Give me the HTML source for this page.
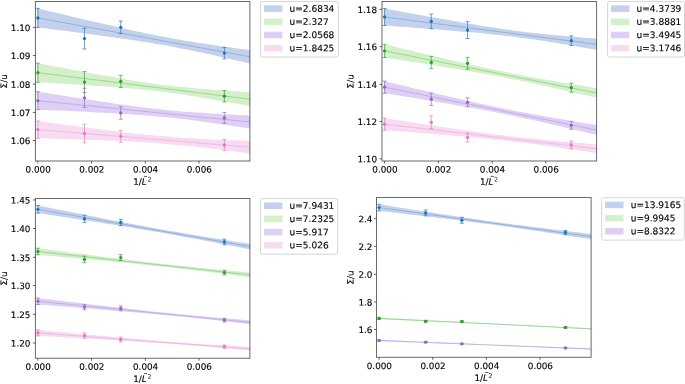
<!DOCTYPE html>
<html lang="en"><head><meta charset="utf-8"><title>Sigma/u vs 1/L^2</title>
<style>html,body{margin:0;padding:0;background:#fff;overflow:hidden}svg{display:block}</style>
</head><body>
<svg width="685" height="384" viewBox="0 0 685 384" font-family='"DejaVu Sans", "Liberation Sans", sans-serif' fill="#000" text-rendering="geometricPrecision">
<rect width="685" height="384" fill="#fff"/>
<filter id="soft" x="0" y="0" width="100%" height="100%" filterUnits="userSpaceOnUse" color-interpolation-filters="sRGB"><feGaussianBlur stdDeviation="0.42"/></filter>
<g filter="url(#soft)">
<rect width="685" height="384" fill="#fff"/>
<clipPath id="c0"><rect x="35.4" y="1.5" width="214.5" height="159.5"/></clipPath>
<g clip-path="url(#c0)">
<polygon points="37.4,8.24 42.87,9.57 48.35,10.89 53.82,12.2 59.3,13.52 64.77,14.83 70.25,16.14 75.72,17.44 81.19,18.74 86.67,20.03 92.14,21.31 97.62,22.58 103.09,23.85 108.57,25.11 114.04,26.35 119.52,27.58 124.99,28.8 130.46,30 135.94,31.18 141.41,32.34 146.89,33.47 152.36,34.58 157.84,35.66 163.31,36.72 168.78,37.74 174.26,38.74 179.73,39.7 185.21,40.63 190.68,41.54 196.16,42.42 201.63,43.27 207.11,44.11 212.58,44.92 218.05,45.72 223.53,46.5 229,47.27 234.48,48.02 239.95,48.77 245.43,49.5 250.9,50.23 250.9,63.73 245.43,62.45 239.95,61.18 234.48,59.92 229,58.66 223.53,57.42 218.05,56.2 212.58,54.99 207.11,53.79 201.63,52.62 196.16,51.46 190.68,50.33 185.21,49.23 179.73,48.16 174.26,47.11 168.78,46.1 163.31,45.11 157.84,44.16 152.36,43.23 146.89,42.33 141.41,41.46 135.94,40.61 130.46,39.78 124.99,38.97 119.52,38.18 114.04,37.4 108.57,36.64 103.09,35.89 97.62,35.15 92.14,34.41 86.67,33.69 81.19,32.97 75.72,32.26 70.25,31.55 64.77,30.85 59.3,30.15 53.82,29.46 48.35,28.77 42.87,28.08 37.4,27.39" fill="#c4d1ed"/>
<polygon points="37.4,63.11 42.87,64.16 48.35,65.2 53.82,66.24 59.3,67.27 64.77,68.31 70.25,69.34 75.72,70.36 81.19,71.38 86.67,72.39 92.14,73.4 97.62,74.4 103.09,75.39 108.57,76.37 114.04,77.34 119.52,78.29 124.99,79.22 130.46,80.14 135.94,81.03 141.41,81.88 146.89,82.71 152.36,83.5 157.84,84.25 163.31,84.96 168.78,85.62 174.26,86.24 179.73,86.82 185.21,87.36 190.68,87.87 196.16,88.35 201.63,88.81 207.11,89.24 212.58,89.66 218.05,90.06 223.53,90.45 229,90.83 234.48,91.2 239.95,91.56 245.43,91.91 250.9,92.26 250.9,106.39 245.43,105.37 239.95,104.35 234.48,103.35 229,102.35 223.53,101.36 218.05,100.38 212.58,99.41 207.11,98.46 201.63,97.53 196.16,96.61 190.68,95.73 185.21,94.87 179.73,94.04 174.26,93.25 168.78,92.51 163.31,91.8 157.84,91.14 152.36,90.52 146.89,89.94 141.41,89.4 135.94,88.89 130.46,88.41 124.99,87.96 119.52,87.52 114.04,87.11 108.57,86.7 103.09,86.32 97.62,85.94 92.14,85.57 86.67,85.21 81.19,84.85 75.72,84.5 70.25,84.16 64.77,83.82 59.3,83.49 53.82,83.15 48.35,82.82 42.87,82.5 37.4,82.17" fill="#d3f0c9"/>
<polygon points="37.4,91.63 42.87,92.5 48.35,93.37 53.82,94.23 59.3,95.09 64.77,95.95 70.25,96.81 75.72,97.66 81.19,98.5 86.67,99.34 92.14,100.18 97.62,101 103.09,101.82 108.57,102.62 114.04,103.42 119.52,104.2 124.99,104.96 130.46,105.71 135.94,106.44 141.41,107.14 146.89,107.82 152.36,108.46 157.84,109.08 163.31,109.66 168.78,110.21 174.26,110.73 179.73,111.21 185.21,111.66 190.68,112.09 196.16,112.48 201.63,112.86 207.11,113.21 212.58,113.54 218.05,113.86 223.53,114.17 229,114.46 234.48,114.75 239.95,115.02 245.43,115.29 250.9,115.55 250.9,128.65 245.43,127.81 239.95,126.98 234.48,126.16 229,125.34 223.53,124.53 218.05,123.74 212.58,122.96 207.11,122.19 201.63,121.45 196.16,120.72 190.68,120.02 185.21,119.34 179.73,118.69 174.26,118.07 168.78,117.49 163.31,116.94 157.84,116.42 152.36,115.94 146.89,115.49 141.41,115.07 135.94,114.67 130.46,114.3 124.99,113.94 119.52,113.61 114.04,113.29 108.57,112.98 103.09,112.69 97.62,112.41 92.14,112.13 86.67,111.86 81.19,111.6 75.72,111.35 70.25,111.1 64.77,110.85 59.3,110.61 53.82,110.38 48.35,110.14 42.87,109.91 37.4,109.68" fill="#ddcff5"/>
<polygon points="37.4,120.94 42.87,121.69 48.35,122.44 53.82,123.19 59.3,123.94 64.77,124.68 70.25,125.42 75.72,126.15 81.19,126.88 86.67,127.6 92.14,128.31 97.62,129.02 103.09,129.72 108.57,130.41 114.04,131.08 119.52,131.75 124.99,132.4 130.46,133.03 135.94,133.64 141.41,134.23 146.89,134.79 152.36,135.33 157.84,135.85 163.31,136.33 168.78,136.78 174.26,137.2 179.73,137.6 185.21,137.96 190.68,138.3 196.16,138.62 201.63,138.92 207.11,139.19 212.58,139.45 218.05,139.69 223.53,139.92 229,140.14 234.48,140.35 239.95,140.55 245.43,140.75 250.9,140.93 250.9,153.63 245.43,152.91 239.95,152.19 234.48,151.49 229,150.79 223.53,150.1 218.05,149.42 212.58,148.75 207.11,148.1 201.63,147.47 196.16,146.86 190.68,146.27 185.21,145.7 179.73,145.15 174.26,144.64 168.78,144.15 163.31,143.7 157.84,143.27 152.36,142.87 146.89,142.51 141.41,142.16 135.94,141.84 130.46,141.55 124.99,141.27 119.52,141.01 114.04,140.76 108.57,140.53 103.09,140.31 97.62,140.1 92.14,139.9 86.67,139.71 81.19,139.52 75.72,139.34 70.25,139.16 64.77,138.99 59.3,138.82 53.82,138.66 48.35,138.5 42.87,138.34 37.4,138.19" fill="#f7dbf2"/>
<line x1="37.85" y1="17.9" x2="250.9" y2="56.98" stroke="#1f77b4" stroke-width="0.55" stroke-opacity="0.6"/>
<line x1="37.85" y1="72.7" x2="250.9" y2="99.32" stroke="#2ca02c" stroke-width="0.55" stroke-opacity="0.6"/>
<line x1="37.85" y1="100.7" x2="250.9" y2="122.1" stroke="#9467bd" stroke-width="0.55" stroke-opacity="0.6"/>
<line x1="37.85" y1="129.6" x2="250.9" y2="147.28" stroke="#e377c2" stroke-width="0.55" stroke-opacity="0.6"/>
</g>
<g stroke="#1f77b4" stroke-width="0.9" stroke-opacity="0.75" fill="#1f77b4">
<path d="M37.85 8.35V27.45M35.85 8.35H39.85M35.85 27.45H39.85" fill="none"/>
<circle cx="37.85" cy="17.9" r="1.65" stroke="none"/>
<path d="M84.48 28.2V49M82.48 28.2H86.48M82.48 49H86.48" fill="none"/>
<circle cx="84.48" cy="38.6" r="1.65" stroke="none"/>
<path d="M120.75 21.1V33.5M118.75 21.1H122.75M118.75 33.5H122.75" fill="none"/>
<circle cx="120.75" cy="27.3" r="1.65" stroke="none"/>
<path d="M224.38 47.4V58.8M222.38 47.4H226.38M222.38 58.8H226.38" fill="none"/>
<circle cx="224.38" cy="53.1" r="1.65" stroke="none"/>
</g>
<g stroke="#2ca02c" stroke-width="0.9" stroke-opacity="0.75" fill="#2ca02c">
<path d="M37.85 63.2V82.2M35.85 63.2H39.85M35.85 82.2H39.85" fill="none"/>
<circle cx="37.85" cy="72.7" r="1.65" stroke="none"/>
<path d="M84.48 71.6V92.6M82.48 71.6H86.48M82.48 92.6H86.48" fill="none"/>
<circle cx="84.48" cy="82.1" r="1.65" stroke="none"/>
<path d="M120.75 75.4V87.4M118.75 75.4H122.75M118.75 87.4H122.75" fill="none"/>
<circle cx="120.75" cy="81.4" r="1.65" stroke="none"/>
<path d="M224.38 90.5V101.9M222.38 90.5H226.38M222.38 101.9H226.38" fill="none"/>
<circle cx="224.38" cy="96.2" r="1.65" stroke="none"/>
</g>
<g stroke="#9467bd" stroke-width="0.9" stroke-opacity="0.75" fill="#9467bd">
<path d="M37.85 91.7V109.7M35.85 91.7H39.85M35.85 109.7H39.85" fill="none"/>
<circle cx="37.85" cy="100.7" r="1.65" stroke="none"/>
<path d="M84.48 88.3V107.3M82.48 88.3H86.48M82.48 107.3H86.48" fill="none"/>
<circle cx="84.48" cy="97.8" r="1.65" stroke="none"/>
<path d="M120.75 106.8V119.2M118.75 106.8H122.75M118.75 119.2H122.75" fill="none"/>
<circle cx="120.75" cy="113" r="1.65" stroke="none"/>
<path d="M224.38 112.4V123.4M222.38 112.4H226.38M222.38 123.4H226.38" fill="none"/>
<circle cx="224.38" cy="117.9" r="1.65" stroke="none"/>
</g>
<g stroke="#e377c2" stroke-width="0.9" stroke-opacity="0.75" fill="#e377c2">
<path d="M37.85 121V138.2M35.85 121H39.85M35.85 138.2H39.85" fill="none"/>
<circle cx="37.85" cy="129.6" r="1.65" stroke="none"/>
<path d="M84.48 124.2V142.8M82.48 124.2H86.48M82.48 142.8H86.48" fill="none"/>
<circle cx="84.48" cy="133.5" r="1.65" stroke="none"/>
<path d="M120.75 130.3V142.3M118.75 130.3H122.75M118.75 142.3H122.75" fill="none"/>
<circle cx="120.75" cy="136.3" r="1.65" stroke="none"/>
<path d="M224.38 139.4V150.6M222.38 139.4H226.38M222.38 150.6H226.38" fill="none"/>
<circle cx="224.38" cy="145" r="1.65" stroke="none"/>
</g>
<rect x="35.4" y="1.5" width="214.5" height="159.5" fill="none" stroke="#000000" stroke-width="0.95" stroke-opacity="0.62"/>
<path d="M37.85 161v2.5M91.57 161v2.5M145.29 161v2.5M199.01 161v2.5M35.4 27.4h-2.5M35.4 55.5h-2.5M35.4 84.2h-2.5M35.4 112.45h-2.5M35.4 140.5h-2.5" stroke="#000000" stroke-width="0.95" stroke-opacity="0.62" fill="none"/>
<g font-size="8.8">
<text stroke="#000" stroke-width="0.13" x="38.15" y="172.6" transform="rotate(0.03 38.15 172.6)" text-anchor="middle">0.000</text>
<text stroke="#000" stroke-width="0.13" x="91.87" y="172.6" transform="rotate(0.03 91.87 172.6)" text-anchor="middle">0.002</text>
<text stroke="#000" stroke-width="0.13" x="145.59" y="172.6" transform="rotate(0.03 145.59 172.6)" text-anchor="middle">0.004</text>
<text stroke="#000" stroke-width="0.13" x="199.31" y="172.6" transform="rotate(0.03 199.31 172.6)" text-anchor="middle">0.006</text>
<text stroke="#000" stroke-width="0.13" x="30.4" y="30.95" transform="rotate(0.03 30.4 30.95)" text-anchor="end">1.10</text>
<text stroke="#000" stroke-width="0.13" x="30.4" y="59.05" transform="rotate(0.03 30.4 59.05)" text-anchor="end">1.09</text>
<text stroke="#000" stroke-width="0.13" x="30.4" y="87.75" transform="rotate(0.03 30.4 87.75)" text-anchor="end">1.08</text>
<text stroke="#000" stroke-width="0.13" x="30.4" y="116" transform="rotate(0.03 30.4 116)" text-anchor="end">1.07</text>
<text stroke="#000" stroke-width="0.13" x="30.4" y="144.05" transform="rotate(0.03 30.4 144.05)" text-anchor="end">1.06</text>
</g>
<g font-size="8.8">
<text stroke="#000" stroke-width="0.13" x="133.25" y="184.8" transform="rotate(0.03 133.25 184.8)">1/<tspan font-style="italic">L</tspan></text>
<text stroke="#000" stroke-width="0.13" x="143.55" y="177.8" transform="rotate(0.03 143.55 177.8)" font-size="4.6" font-weight="bold">~</text>
<text x="147.45" y="181.5" transform="rotate(0.03 147.45 181.5)" font-size="6.4" fill="#222">2</text>
</g>
<text transform="translate(6.9 81.35) rotate(-90.03)" font-size="8.8" text-anchor="middle" stroke="#000" stroke-width="0.13">Σ/u</text>
<rect x="260.6" y="1.45" width="77.7" height="55.56" rx="1.8" ry="1.8" fill="#fff" stroke="#cacaca" stroke-width="0.8"/>
<g font-size="9.0">
<rect x="264" y="5.4" width="18.4" height="6.5" fill="#c4d1ed"/>
<text stroke="#000" stroke-width="0.13" x="289.6" y="11.7" transform="rotate(0.03 289.6 11.7)">u=2.6834</text>
<rect x="264" y="18.57" width="18.4" height="6.5" fill="#d3f0c9"/>
<text stroke="#000" stroke-width="0.13" x="289.6" y="24.87" transform="rotate(0.03 289.6 24.87)">u=2.327</text>
<rect x="264" y="31.74" width="18.4" height="6.5" fill="#ddcff5"/>
<text stroke="#000" stroke-width="0.13" x="289.6" y="38.04" transform="rotate(0.03 289.6 38.04)">u=2.0568</text>
<rect x="264" y="44.91" width="18.4" height="6.5" fill="#f7dbf2"/>
<text stroke="#000" stroke-width="0.13" x="289.6" y="51.21" transform="rotate(0.03 289.6 51.21)">u=1.8425</text>
</g>
<clipPath id="c1"><rect x="382" y="1.5" width="214.6" height="159.5"/></clipPath>
<g clip-path="url(#c1)">
<polygon points="384.15,8.42 389.62,9.42 395.1,10.43 400.57,11.43 406.04,12.43 411.52,13.43 416.99,14.42 422.46,15.42 427.93,16.4 433.41,17.39 438.88,18.37 444.35,19.34 449.83,20.3 455.3,21.26 460.77,22.21 466.25,23.15 471.72,24.08 477.19,24.99 482.67,25.89 488.14,26.76 493.61,27.62 499.08,28.45 504.56,29.25 510.03,30.02 515.5,30.76 520.98,31.46 526.45,32.13 531.92,32.77 537.4,33.37 542.87,33.95 548.34,34.5 553.82,35.03 559.29,35.55 564.76,36.04 570.23,36.52 575.71,36.99 581.18,37.45 586.65,37.9 592.13,38.34 597.6,38.78 597.6,50.08 592.13,49.1 586.65,48.14 581.18,47.18 575.71,46.23 570.23,45.29 564.76,44.36 559.29,43.45 553.82,42.55 548.34,41.67 542.87,40.81 537.4,39.98 531.92,39.18 526.45,38.4 520.98,37.66 515.5,36.96 510.03,36.29 504.56,35.65 499.08,35.04 493.61,34.46 488.14,33.9 482.67,33.37 477.19,32.85 471.72,32.36 466.25,31.88 460.77,31.41 455.3,30.95 449.83,30.49 444.35,30.05 438.88,29.61 433.41,29.18 427.93,28.76 422.46,28.34 416.99,27.92 411.52,27.5 406.04,27.09 400.57,26.68 395.1,26.27 389.62,25.87 384.15,25.47" fill="#c4d1ed"/>
<polygon points="384.15,44.19 389.62,45.51 395.1,46.83 400.57,48.14 406.04,49.45 411.52,50.76 416.99,52.06 422.46,53.37 427.93,54.66 433.41,55.95 438.88,57.24 444.35,58.52 449.83,59.8 455.3,61.06 460.77,62.32 466.25,63.57 471.72,64.8 477.19,66.02 482.67,67.23 488.14,68.42 493.61,69.59 499.08,70.74 504.56,71.86 510.03,72.97 515.5,74.05 520.98,75.11 526.45,76.15 531.92,77.16 537.4,78.16 542.87,79.13 548.34,80.09 553.82,81.04 559.29,81.97 564.76,82.9 570.23,83.81 575.71,84.71 581.18,85.61 586.65,86.5 592.13,87.38 597.6,88.26 597.6,98.14 592.13,96.84 586.65,95.55 581.18,94.27 575.71,92.99 570.23,91.72 564.76,90.46 559.29,89.21 553.82,87.97 548.34,86.74 542.87,85.53 537.4,84.33 531.92,83.15 526.45,81.99 520.98,80.86 515.5,79.74 510.03,78.65 504.56,77.58 499.08,76.53 493.61,75.51 488.14,74.5 482.67,73.52 477.19,72.55 471.72,71.6 466.25,70.66 460.77,69.73 455.3,68.82 449.83,67.91 444.35,67.01 438.88,66.12 433.41,65.23 427.93,64.35 422.46,63.47 416.99,62.6 411.52,61.73 406.04,60.87 400.57,60 395.1,59.14 389.62,58.29 384.15,57.43" fill="#d3f0c9"/>
<polygon points="384.15,81.09 389.62,82.41 395.1,83.74 400.57,85.06 406.04,86.37 411.52,87.69 416.99,89 422.46,90.3 427.93,91.6 433.41,92.9 438.88,94.19 444.35,95.47 449.83,96.75 455.3,98.02 460.77,99.27 466.25,100.52 471.72,101.75 477.19,102.96 482.67,104.16 488.14,105.34 493.61,106.5 499.08,107.64 504.56,108.76 510.03,109.85 515.5,110.93 520.98,111.98 526.45,113.01 531.92,114.02 537.4,115.01 542.87,115.99 548.34,116.96 553.82,117.91 559.29,118.86 564.76,119.79 570.23,120.72 575.71,121.64 581.18,122.55 586.65,123.46 592.13,124.36 597.6,125.26 597.6,135.14 592.13,133.83 586.65,132.52 581.18,131.22 575.71,129.93 570.23,128.64 564.76,127.35 559.29,126.08 553.82,124.81 548.34,123.56 542.87,122.31 537.4,121.08 531.92,119.87 526.45,118.67 520.98,117.49 515.5,116.33 510.03,115.19 504.56,114.08 499.08,112.98 493.61,111.91 488.14,110.86 482.67,109.83 477.19,108.82 471.72,107.83 466.25,106.85 460.77,105.88 455.3,104.93 449.83,103.99 444.35,103.05 438.88,102.13 433.41,101.21 427.93,100.29 422.46,99.39 416.99,98.48 411.52,97.58 406.04,96.69 400.57,95.79 395.1,94.9 389.62,94.01 384.15,93.13" fill="#ddcff5"/>
<polygon points="384.15,118.13 389.62,118.97 395.1,119.81 400.57,120.65 406.04,121.49 411.52,122.32 416.99,123.15 422.46,123.98 427.93,124.81 433.41,125.63 438.88,126.44 444.35,127.25 449.83,128.06 455.3,128.85 460.77,129.64 466.25,130.42 471.72,131.19 477.19,131.95 482.67,132.69 488.14,133.42 493.61,134.13 499.08,134.82 504.56,135.49 510.03,136.15 515.5,136.78 520.98,137.39 526.45,137.97 531.92,138.54 537.4,139.1 542.87,139.63 548.34,140.15 553.82,140.65 559.29,141.15 564.76,141.63 570.23,142.11 575.71,142.57 581.18,143.03 586.65,143.49 592.13,143.94 597.6,144.38 597.6,153.25 592.13,152.43 586.65,151.61 581.18,150.8 575.71,150 570.23,149.2 564.76,148.41 559.29,147.63 553.82,146.86 548.34,146.1 542.87,145.35 537.4,144.62 531.92,143.91 526.45,143.21 520.98,142.54 515.5,141.88 510.03,141.25 504.56,140.63 499.08,140.04 493.61,139.47 488.14,138.91 482.67,138.38 477.19,137.85 471.72,137.35 466.25,136.85 460.77,136.36 455.3,135.89 449.83,135.42 444.35,134.96 438.88,134.5 433.41,134.05 427.93,133.61 422.46,133.17 416.99,132.73 411.52,132.3 406.04,131.87 400.57,131.44 395.1,131.01 389.62,130.59 384.15,130.17" fill="#f7dbf2"/>
<line x1="384.6" y1="17" x2="597.6" y2="44.43" stroke="#1f77b4" stroke-width="0.55" stroke-opacity="0.6"/>
<line x1="384.6" y1="50.9" x2="597.6" y2="93.2" stroke="#2ca02c" stroke-width="0.55" stroke-opacity="0.6"/>
<line x1="384.6" y1="87.2" x2="597.6" y2="130.2" stroke="#9467bd" stroke-width="0.55" stroke-opacity="0.6"/>
<line x1="384.6" y1="124.2" x2="597.6" y2="148.82" stroke="#e377c2" stroke-width="0.55" stroke-opacity="0.6"/>
</g>
<g stroke="#1f77b4" stroke-width="0.9" stroke-opacity="0.75" fill="#1f77b4">
<path d="M384.6 8.5V25.5M382.6 8.5H386.6M382.6 25.5H386.6" fill="none"/>
<circle cx="384.6" cy="17" r="1.65" stroke="none"/>
<path d="M431.27 14.15V28.65M429.27 14.15H433.27M429.27 28.65H433.27" fill="none"/>
<circle cx="431.27" cy="21.4" r="1.65" stroke="none"/>
<path d="M467.56 21.7V38.5M465.56 21.7H469.56M465.56 38.5H469.56" fill="none"/>
<circle cx="467.56" cy="30.1" r="1.65" stroke="none"/>
<path d="M571.27 35.9V45.5M569.27 35.9H573.27M569.27 45.5H573.27" fill="none"/>
<circle cx="571.27" cy="40.7" r="1.65" stroke="none"/>
</g>
<g stroke="#2ca02c" stroke-width="0.9" stroke-opacity="0.75" fill="#2ca02c">
<path d="M384.6 44.3V57.5M382.6 44.3H386.6M382.6 57.5H386.6" fill="none"/>
<circle cx="384.6" cy="50.9" r="1.65" stroke="none"/>
<path d="M431.27 56.4V68.4M429.27 56.4H433.27M429.27 68.4H433.27" fill="none"/>
<circle cx="431.27" cy="62.4" r="1.65" stroke="none"/>
<path d="M467.56 57.4V69.2M465.56 57.4H469.56M465.56 69.2H469.56" fill="none"/>
<circle cx="467.56" cy="63.3" r="1.65" stroke="none"/>
<path d="M571.27 83.2V92.2M569.27 83.2H573.27M569.27 92.2H573.27" fill="none"/>
<circle cx="571.27" cy="87.7" r="1.65" stroke="none"/>
</g>
<g stroke="#9467bd" stroke-width="0.9" stroke-opacity="0.75" fill="#9467bd">
<path d="M384.6 81.2V93.2M382.6 81.2H386.6M382.6 93.2H386.6" fill="none"/>
<circle cx="384.6" cy="87.2" r="1.65" stroke="none"/>
<path d="M431.27 93.1V105.3M429.27 93.1H433.27M429.27 105.3H433.27" fill="none"/>
<circle cx="431.27" cy="99.2" r="1.65" stroke="none"/>
<path d="M467.56 97.8V106.8M465.56 97.8H469.56M465.56 106.8H469.56" fill="none"/>
<circle cx="467.56" cy="102.3" r="1.65" stroke="none"/>
<path d="M571.27 121.3V129.3M569.27 121.3H573.27M569.27 129.3H573.27" fill="none"/>
<circle cx="571.27" cy="125.3" r="1.65" stroke="none"/>
</g>
<g stroke="#e377c2" stroke-width="0.9" stroke-opacity="0.75" fill="#e377c2">
<path d="M384.6 118.2V130.2M382.6 118.2H386.6M382.6 130.2H386.6" fill="none"/>
<circle cx="384.6" cy="124.2" r="1.65" stroke="none"/>
<path d="M431.27 116V128.8M429.27 116H433.27M429.27 128.8H433.27" fill="none"/>
<circle cx="431.27" cy="122.4" r="1.65" stroke="none"/>
<path d="M467.56 133.2V142M465.56 133.2H469.56M465.56 142H469.56" fill="none"/>
<circle cx="467.56" cy="137.6" r="1.65" stroke="none"/>
<path d="M571.27 141V148.8M569.27 141H573.27M569.27 148.8H573.27" fill="none"/>
<circle cx="571.27" cy="144.9" r="1.65" stroke="none"/>
</g>
<rect x="382" y="1.5" width="214.6" height="159.5" fill="none" stroke="#000000" stroke-width="0.95" stroke-opacity="0.62"/>
<path d="M384.6 161v2.5M438.36 161v2.5M492.12 161v2.5M545.88 161v2.5M382 9.45h-2.5M382 46.55h-2.5M382 84.45h-2.5M382 121.45h-2.5M382 158.8h-2.5" stroke="#000000" stroke-width="0.95" stroke-opacity="0.62" fill="none"/>
<g font-size="8.8">
<text stroke="#000" stroke-width="0.13" x="384.9" y="172.6" transform="rotate(0.03 384.9 172.6)" text-anchor="middle">0.000</text>
<text stroke="#000" stroke-width="0.13" x="438.66" y="172.6" transform="rotate(0.03 438.66 172.6)" text-anchor="middle">0.002</text>
<text stroke="#000" stroke-width="0.13" x="492.42" y="172.6" transform="rotate(0.03 492.42 172.6)" text-anchor="middle">0.004</text>
<text stroke="#000" stroke-width="0.13" x="546.18" y="172.6" transform="rotate(0.03 546.18 172.6)" text-anchor="middle">0.006</text>
<text stroke="#000" stroke-width="0.13" x="377" y="13" transform="rotate(0.03 377 13)" text-anchor="end">1.18</text>
<text stroke="#000" stroke-width="0.13" x="377" y="50.1" transform="rotate(0.03 377 50.1)" text-anchor="end">1.16</text>
<text stroke="#000" stroke-width="0.13" x="377" y="88" transform="rotate(0.03 377 88)" text-anchor="end">1.14</text>
<text stroke="#000" stroke-width="0.13" x="377" y="125" transform="rotate(0.03 377 125)" text-anchor="end">1.12</text>
<text stroke="#000" stroke-width="0.13" x="377" y="162.35" transform="rotate(0.03 377 162.35)" text-anchor="end">1.10</text>
</g>
<g font-size="8.8">
<text stroke="#000" stroke-width="0.13" x="479.9" y="184.8" transform="rotate(0.03 479.9 184.8)">1/<tspan font-style="italic">L</tspan></text>
<text stroke="#000" stroke-width="0.13" x="490.2" y="177.8" transform="rotate(0.03 490.2 177.8)" font-size="4.6" font-weight="bold">~</text>
<text x="494.1" y="181.5" transform="rotate(0.03 494.1 181.5)" font-size="6.4" fill="#222">2</text>
</g>
<text transform="translate(353.5 81.35) rotate(-90.03)" font-size="8.8" text-anchor="middle" stroke="#000" stroke-width="0.13">Σ/u</text>
<rect x="607.6" y="1.45" width="76.9" height="55.56" rx="1.8" ry="1.8" fill="#fff" stroke="#cacaca" stroke-width="0.8"/>
<g font-size="9.0">
<rect x="611" y="5.4" width="18.4" height="6.5" fill="#c4d1ed"/>
<text stroke="#000" stroke-width="0.13" x="636.6" y="11.7" transform="rotate(0.03 636.6 11.7)">u=4.3739</text>
<rect x="611" y="18.57" width="18.4" height="6.5" fill="#d3f0c9"/>
<text stroke="#000" stroke-width="0.13" x="636.6" y="24.87" transform="rotate(0.03 636.6 24.87)">u=3.8881</text>
<rect x="611" y="31.74" width="18.4" height="6.5" fill="#ddcff5"/>
<text stroke="#000" stroke-width="0.13" x="636.6" y="38.04" transform="rotate(0.03 636.6 38.04)">u=3.4945</text>
<rect x="611" y="44.91" width="18.4" height="6.5" fill="#f7dbf2"/>
<text stroke="#000" stroke-width="0.13" x="636.6" y="51.21" transform="rotate(0.03 636.6 51.21)">u=3.1746</text>
</g>
<clipPath id="c2"><rect x="35.4" y="198.5" width="214.5" height="159.75"/></clipPath>
<g clip-path="url(#c2)">
<polygon points="37.4,205.41 42.87,206.5 48.35,207.6 53.82,208.69 59.3,209.78 64.77,210.87 70.25,211.95 75.72,213.04 81.19,214.12 86.67,215.2 92.14,216.28 97.62,217.35 103.09,218.42 108.57,219.48 114.04,220.54 119.52,221.59 124.99,222.64 130.46,223.68 135.94,224.71 141.41,225.73 146.89,226.74 152.36,227.74 157.84,228.73 163.31,229.7 168.78,230.67 174.26,231.61 179.73,232.55 185.21,233.48 190.68,234.39 196.16,235.29 201.63,236.19 207.11,237.07 212.58,237.95 218.05,238.82 223.53,239.69 229,240.55 234.48,241.41 239.95,242.26 245.43,243.11 250.9,243.95 250.9,249.6 245.43,248.52 239.95,247.44 234.48,246.37 229,245.3 223.53,244.23 218.05,243.17 212.58,242.12 207.11,241.07 201.63,240.03 196.16,239 190.68,237.98 185.21,236.96 179.73,235.96 174.26,234.97 168.78,234 163.31,233.03 157.84,232.08 152.36,231.14 146.89,230.22 141.41,229.3 135.94,228.4 130.46,227.5 124.99,226.62 119.52,225.74 114.04,224.86 108.57,224 103.09,223.14 97.62,222.28 92.14,221.43 86.67,220.58 81.19,219.73 75.72,218.89 70.25,218.04 64.77,217.2 59.3,216.37 53.82,215.53 48.35,214.7 42.87,213.86 37.4,213.03" fill="#c4d1ed"/>
<polygon points="37.4,248.14 42.87,248.86 48.35,249.58 53.82,250.3 59.3,251.02 64.77,251.73 70.25,252.45 75.72,253.16 81.19,253.87 86.67,254.58 92.14,255.28 97.62,255.99 103.09,256.69 108.57,257.38 114.04,258.08 119.52,258.76 124.99,259.44 130.46,260.12 135.94,260.78 141.41,261.44 146.89,262.09 152.36,262.73 157.84,263.36 163.31,263.97 168.78,264.58 174.26,265.17 179.73,265.75 185.21,266.32 190.68,266.88 196.16,267.42 201.63,267.97 207.11,268.5 212.58,269.03 218.05,269.55 223.53,270.06 229,270.58 234.48,271.08 239.95,271.59 245.43,272.09 250.9,272.59 250.9,277.43 245.43,276.72 239.95,276.01 234.48,275.31 229,274.61 223.53,273.92 218.05,273.22 212.58,272.54 207.11,271.86 201.63,271.18 196.16,270.51 190.68,269.86 185.21,269.21 179.73,268.57 174.26,267.94 168.78,267.32 163.31,266.72 157.84,266.13 152.36,265.54 146.89,264.97 141.41,264.42 135.94,263.87 130.46,263.32 124.99,262.79 119.52,262.26 114.04,261.74 108.57,261.22 103.09,260.71 97.62,260.2 92.14,259.7 86.67,259.2 81.19,258.7 75.72,258.2 70.25,257.7 64.77,257.21 59.3,256.72 53.82,256.23 48.35,255.74 42.87,255.25 37.4,254.76" fill="#d3f0c9"/>
<polygon points="37.4,298.05 42.87,298.7 48.35,299.35 53.82,300 59.3,300.65 64.77,301.29 70.25,301.94 75.72,302.59 81.19,303.23 86.67,303.88 92.14,304.52 97.62,305.16 103.09,305.8 108.57,306.43 114.04,307.07 119.52,307.7 124.99,308.32 130.46,308.94 135.94,309.56 141.41,310.17 146.89,310.78 152.36,311.38 157.84,311.96 163.31,312.54 168.78,313.11 174.26,313.67 179.73,314.21 185.21,314.75 190.68,315.27 196.16,315.78 201.63,316.28 207.11,316.77 212.58,317.25 218.05,317.73 223.53,318.2 229,318.66 234.48,319.12 239.95,319.58 245.43,320.03 250.9,320.48 250.9,324.32 245.43,323.68 239.95,323.05 234.48,322.42 229,321.8 223.53,321.18 218.05,320.56 212.58,319.95 207.11,319.35 201.63,318.76 196.16,318.18 190.68,317.6 185.21,317.04 179.73,316.49 174.26,315.95 168.78,315.42 163.31,314.91 157.84,314.4 152.36,313.91 146.89,313.42 141.41,312.94 135.94,312.47 130.46,312 124.99,311.54 119.52,311.08 114.04,310.63 108.57,310.17 103.09,309.73 97.62,309.28 92.14,308.84 86.67,308.39 81.19,307.95 75.72,307.51 70.25,307.08 64.77,306.64 59.3,306.2 53.82,305.77 48.35,305.33 42.87,304.9 37.4,304.46" fill="#ddcff5"/>
<polygon points="37.4,329.86 42.87,330.37 48.35,330.88 53.82,331.4 59.3,331.91 64.77,332.42 70.25,332.93 75.72,333.44 81.19,333.94 86.67,334.45 92.14,334.95 97.62,335.46 103.09,335.96 108.57,336.46 114.04,336.96 119.52,337.45 124.99,337.94 130.46,338.42 135.94,338.91 141.41,339.38 146.89,339.85 152.36,340.31 157.84,340.77 163.31,341.21 168.78,341.64 174.26,342.07 179.73,342.48 185.21,342.88 190.68,343.27 196.16,343.65 201.63,344.02 207.11,344.38 212.58,344.73 218.05,345.08 223.53,345.42 229,345.75 234.48,346.08 239.95,346.41 245.43,346.74 250.9,347.06 250.9,350.69 245.43,350.19 239.95,349.7 234.48,349.2 229,348.71 223.53,348.23 218.05,347.75 212.58,347.27 207.11,346.81 201.63,346.35 196.16,345.89 190.68,345.45 185.21,345.02 179.73,344.6 174.26,344.19 168.78,343.79 163.31,343.4 157.84,343.03 152.36,342.66 146.89,342.3 141.41,341.95 135.94,341.6 130.46,341.26 124.99,340.93 119.52,340.6 114.04,340.27 108.57,339.95 103.09,339.62 97.62,339.3 92.14,338.99 86.67,338.67 81.19,338.36 75.72,338.04 70.25,337.73 64.77,337.42 59.3,337.11 53.82,336.8 48.35,336.49 42.87,336.18 37.4,335.87" fill="#f7dbf2"/>
<line x1="37.85" y1="209.3" x2="250.9" y2="246.78" stroke="#1f77b4" stroke-width="0.55" stroke-opacity="0.6"/>
<line x1="37.85" y1="251.5" x2="250.9" y2="275.01" stroke="#2ca02c" stroke-width="0.55" stroke-opacity="0.6"/>
<line x1="37.85" y1="301.3" x2="250.9" y2="322.4" stroke="#9467bd" stroke-width="0.55" stroke-opacity="0.6"/>
<line x1="37.85" y1="332.9" x2="250.9" y2="348.87" stroke="#e377c2" stroke-width="0.55" stroke-opacity="0.6"/>
</g>
<g stroke="#1f77b4" stroke-width="0.9" stroke-opacity="0.75" fill="#1f77b4">
<path d="M37.85 205.5V213.1M35.85 205.5H39.85M35.85 213.1H39.85" fill="none"/>
<circle cx="37.85" cy="209.3" r="1.65" stroke="none"/>
<path d="M84.48 215.2V222.6M82.48 215.2H86.48M82.48 222.6H86.48" fill="none"/>
<circle cx="84.48" cy="218.9" r="1.65" stroke="none"/>
<path d="M120.75 219.3V225.7M118.75 219.3H122.75M118.75 225.7H122.75" fill="none"/>
<circle cx="120.75" cy="222.5" r="1.65" stroke="none"/>
<path d="M224.38 239.2V244.8M222.38 239.2H226.38M222.38 244.8H226.38" fill="none"/>
<circle cx="224.38" cy="242" r="1.65" stroke="none"/>
</g>
<g stroke="#2ca02c" stroke-width="0.9" stroke-opacity="0.75" fill="#2ca02c">
<path d="M37.85 248.2V254.8M35.85 248.2H39.85M35.85 254.8H39.85" fill="none"/>
<circle cx="37.85" cy="251.5" r="1.65" stroke="none"/>
<path d="M84.48 256.1V262.7M82.48 256.1H86.48M82.48 262.7H86.48" fill="none"/>
<circle cx="84.48" cy="259.4" r="1.65" stroke="none"/>
<path d="M120.75 254.7V260.5M118.75 254.7H122.75M118.75 260.5H122.75" fill="none"/>
<circle cx="120.75" cy="257.6" r="1.65" stroke="none"/>
<path d="M224.38 270.3V274.9M222.38 270.3H226.38M222.38 274.9H226.38" fill="none"/>
<circle cx="224.38" cy="272.6" r="1.65" stroke="none"/>
</g>
<g stroke="#9467bd" stroke-width="0.9" stroke-opacity="0.75" fill="#9467bd">
<path d="M37.85 298.1V304.5M35.85 298.1H39.85M35.85 304.5H39.85" fill="none"/>
<circle cx="37.85" cy="301.3" r="1.65" stroke="none"/>
<path d="M84.48 304.4V309.8M82.48 304.4H86.48M82.48 309.8H86.48" fill="none"/>
<circle cx="84.48" cy="307.1" r="1.65" stroke="none"/>
<path d="M120.75 305.9V310.9M118.75 305.9H122.75M118.75 310.9H122.75" fill="none"/>
<circle cx="120.75" cy="308.4" r="1.65" stroke="none"/>
<path d="M224.38 318.2V322M222.38 318.2H226.38M222.38 322H226.38" fill="none"/>
<circle cx="224.38" cy="320.1" r="1.65" stroke="none"/>
</g>
<g stroke="#e377c2" stroke-width="0.9" stroke-opacity="0.75" fill="#e377c2">
<path d="M37.85 329.9V335.9M35.85 329.9H39.85M35.85 335.9H39.85" fill="none"/>
<circle cx="37.85" cy="332.9" r="1.65" stroke="none"/>
<path d="M84.48 333V338.2M82.48 333H86.48M82.48 338.2H86.48" fill="none"/>
<circle cx="84.48" cy="335.6" r="1.65" stroke="none"/>
<path d="M120.75 337.2V342M118.75 337.2H122.75M118.75 342H122.75" fill="none"/>
<circle cx="120.75" cy="339.6" r="1.65" stroke="none"/>
<path d="M224.38 345V348.2M222.38 345H226.38M222.38 348.2H226.38" fill="none"/>
<circle cx="224.38" cy="346.6" r="1.65" stroke="none"/>
</g>
<rect x="35.4" y="198.5" width="214.5" height="159.75" fill="none" stroke="#000000" stroke-width="0.95" stroke-opacity="0.62"/>
<path d="M37.85 358.25v2.5M91.57 358.25v2.5M145.29 358.25v2.5M199.01 358.25v2.5M35.4 199.95h-2.5M35.4 228.5h-2.5M35.4 257.4h-2.5M35.4 285.5h-2.5M35.4 314.4h-2.5M35.4 343h-2.5" stroke="#000000" stroke-width="0.95" stroke-opacity="0.62" fill="none"/>
<g font-size="8.8">
<text stroke="#000" stroke-width="0.13" x="38.15" y="369.85" transform="rotate(0.03 38.15 369.85)" text-anchor="middle">0.000</text>
<text stroke="#000" stroke-width="0.13" x="91.87" y="369.85" transform="rotate(0.03 91.87 369.85)" text-anchor="middle">0.002</text>
<text stroke="#000" stroke-width="0.13" x="145.59" y="369.85" transform="rotate(0.03 145.59 369.85)" text-anchor="middle">0.004</text>
<text stroke="#000" stroke-width="0.13" x="199.31" y="369.85" transform="rotate(0.03 199.31 369.85)" text-anchor="middle">0.006</text>
<text stroke="#000" stroke-width="0.13" x="30.4" y="203.5" transform="rotate(0.03 30.4 203.5)" text-anchor="end">1.45</text>
<text stroke="#000" stroke-width="0.13" x="30.4" y="232.05" transform="rotate(0.03 30.4 232.05)" text-anchor="end">1.40</text>
<text stroke="#000" stroke-width="0.13" x="30.4" y="260.95" transform="rotate(0.03 30.4 260.95)" text-anchor="end">1.35</text>
<text stroke="#000" stroke-width="0.13" x="30.4" y="289.05" transform="rotate(0.03 30.4 289.05)" text-anchor="end">1.30</text>
<text stroke="#000" stroke-width="0.13" x="30.4" y="317.95" transform="rotate(0.03 30.4 317.95)" text-anchor="end">1.25</text>
<text stroke="#000" stroke-width="0.13" x="30.4" y="346.55" transform="rotate(0.03 30.4 346.55)" text-anchor="end">1.20</text>
</g>
<g font-size="8.8">
<text stroke="#000" stroke-width="0.13" x="133.25" y="382.05" transform="rotate(0.03 133.25 382.05)">1/<tspan font-style="italic">L</tspan></text>
<text stroke="#000" stroke-width="0.13" x="143.55" y="375.05" transform="rotate(0.03 143.55 375.05)" font-size="4.6" font-weight="bold">~</text>
<text x="147.45" y="378.75" transform="rotate(0.03 147.45 378.75)" font-size="6.4" fill="#222">2</text>
</g>
<text transform="translate(6.9 278.48) rotate(-90.03)" font-size="8.8" text-anchor="middle" stroke="#000" stroke-width="0.13">Σ/u</text>
<rect x="260.6" y="198.6" width="77" height="55.56" rx="1.8" ry="1.8" fill="#fff" stroke="#cacaca" stroke-width="0.8"/>
<g font-size="9.0">
<rect x="264" y="202.55" width="18.4" height="6.5" fill="#c4d1ed"/>
<text stroke="#000" stroke-width="0.13" x="289.6" y="208.85" transform="rotate(0.03 289.6 208.85)">u=7.9431</text>
<rect x="264" y="215.72" width="18.4" height="6.5" fill="#d3f0c9"/>
<text stroke="#000" stroke-width="0.13" x="289.6" y="222.02" transform="rotate(0.03 289.6 222.02)">u=7.2325</text>
<rect x="264" y="228.89" width="18.4" height="6.5" fill="#ddcff5"/>
<text stroke="#000" stroke-width="0.13" x="289.6" y="235.19" transform="rotate(0.03 289.6 235.19)">u=5.917</text>
<rect x="264" y="242.06" width="18.4" height="6.5" fill="#f7dbf2"/>
<text stroke="#000" stroke-width="0.13" x="289.6" y="248.36" transform="rotate(0.03 289.6 248.36)">u=5.026</text>
</g>
<clipPath id="c3"><rect x="376.5" y="197.5" width="214.6" height="159.8"/></clipPath>
<g clip-path="url(#c3)">
<polygon points="378.6,204.23 384.07,205.09 389.55,205.96 395.02,206.82 400.5,207.68 405.97,208.54 411.45,209.39 416.92,210.25 422.39,211.1 427.87,211.95 433.34,212.79 438.82,213.63 444.29,214.47 449.77,215.3 455.24,216.13 460.72,216.95 466.19,217.76 471.66,218.57 477.14,219.36 482.61,220.15 488.09,220.93 493.56,221.69 499.04,222.45 504.51,223.19 509.98,223.93 515.46,224.65 520.93,225.36 526.41,226.06 531.88,226.76 537.36,227.44 542.83,228.12 548.31,228.8 553.78,229.46 559.25,230.12 564.73,230.78 570.2,231.43 575.68,232.08 581.15,232.73 586.63,233.38 592.1,234.02 592.1,239.46 586.63,238.6 581.15,237.75 575.68,236.9 570.2,236.05 564.73,235.21 559.25,234.37 553.78,233.53 548.31,232.7 542.83,231.87 537.36,231.06 531.88,230.24 526.41,229.44 520.93,228.65 515.46,227.86 509.98,227.09 504.51,226.32 499.04,225.57 493.56,224.83 488.09,224.1 482.61,223.38 477.14,222.67 471.66,221.97 466.19,221.27 460.72,220.59 455.24,219.91 449.77,219.24 444.29,218.58 438.82,217.92 433.34,217.26 427.87,216.61 422.39,215.96 416.92,215.31 411.45,214.67 405.97,214.03 400.5,213.39 395.02,212.75 389.55,212.12 384.07,211.48 378.6,210.85" fill="#c4d1ed"/>
<polygon points="378.6,317.58 384.07,317.87 389.55,318.16 395.02,318.45 400.5,318.74 405.97,319.03 411.45,319.32 416.92,319.6 422.39,319.89 427.87,320.18 433.34,320.46 438.82,320.75 444.29,321.03 449.77,321.31 455.24,321.59 460.72,321.87 466.19,322.15 471.66,322.43 477.14,322.7 482.61,322.98 488.09,323.25 493.56,323.52 499.04,323.79 504.51,324.06 509.98,324.32 515.46,324.59 520.93,324.85 526.41,325.11 531.88,325.37 537.36,325.63 542.83,325.88 548.31,326.14 553.78,326.39 559.25,326.65 564.73,326.9 570.2,327.15 575.68,327.4 581.15,327.65 586.63,327.9 592.1,328.15 592.1,329.55 586.63,329.26 581.15,328.98 575.68,328.69 570.2,328.4 564.73,328.12 559.25,327.83 553.78,327.55 548.31,327.26 542.83,326.98 537.36,326.7 531.88,326.42 526.41,326.15 520.93,325.87 515.46,325.59 509.98,325.32 504.51,325.05 499.04,324.78 493.56,324.51 488.09,324.25 482.61,323.98 477.14,323.72 471.66,323.46 466.19,323.2 460.72,322.94 455.24,322.68 449.77,322.42 444.29,322.17 438.82,321.92 433.34,321.66 427.87,321.41 422.39,321.16 416.92,320.91 411.45,320.66 405.97,320.41 400.5,320.17 395.02,319.92 389.55,319.67 384.07,319.43 378.6,319.18" fill="#d3f0c9"/>
<polygon points="378.6,339.78 384.07,340.02 389.55,340.26 395.02,340.49 400.5,340.73 405.97,340.97 411.45,341.2 416.92,341.44 422.39,341.67 427.87,341.91 433.34,342.14 438.82,342.37 444.29,342.6 449.77,342.84 455.24,343.07 460.72,343.29 466.19,343.52 471.66,343.75 477.14,343.98 482.61,344.2 488.09,344.42 493.56,344.64 499.04,344.86 504.51,345.08 509.98,345.3 515.46,345.52 520.93,345.73 526.41,345.95 531.88,346.16 537.36,346.37 542.83,346.58 548.31,346.79 553.78,347 559.25,347.21 564.73,347.41 570.2,347.62 575.68,347.83 581.15,348.03 586.63,348.23 592.1,348.44 592.1,349.64 586.63,349.41 581.15,349.17 575.68,348.94 570.2,348.7 564.73,348.47 559.25,348.24 553.78,348.01 548.31,347.78 542.83,347.55 537.36,347.32 531.88,347.09 526.41,346.87 520.93,346.64 515.46,346.42 509.98,346.2 504.51,345.97 499.04,345.75 493.56,345.54 488.09,345.32 482.61,345.1 477.14,344.89 471.66,344.68 466.19,344.46 460.72,344.25 455.24,344.04 449.77,343.83 444.29,343.63 438.82,343.42 433.34,343.21 427.87,343.01 422.39,342.8 416.92,342.6 411.45,342.39 405.97,342.19 400.5,341.99 395.02,341.79 389.55,341.59 384.07,341.38 378.6,341.18" fill="#ddcff5"/>
<line x1="379.05" y1="207.6" x2="592.1" y2="236.74" stroke="#1f77b4" stroke-width="0.55" stroke-opacity="0.6"/>
<line x1="379.05" y1="318.4" x2="592.1" y2="328.85" stroke="#2ca02c" stroke-width="0.55" stroke-opacity="0.6"/>
<line x1="379.05" y1="340.5" x2="592.1" y2="349.04" stroke="#9467bd" stroke-width="0.55" stroke-opacity="0.6"/>
</g>
<g stroke="#1f77b4" stroke-width="0.9" stroke-opacity="0.75" fill="#1f77b4">
<path d="M379.05 204.3V210.9M377.05 204.3H381.05M377.05 210.9H381.05" fill="none"/>
<circle cx="379.05" cy="207.6" r="1.65" stroke="none"/>
<path d="M425.65 210V215.8M423.65 210H427.65M423.65 215.8H427.65" fill="none"/>
<circle cx="425.65" cy="212.9" r="1.65" stroke="none"/>
<path d="M461.89 217.3V223.3M459.89 217.3H463.89M459.89 223.3H463.89" fill="none"/>
<circle cx="461.89" cy="220.3" r="1.65" stroke="none"/>
<path d="M565.44 230.4V234.6M563.44 230.4H567.44M563.44 234.6H567.44" fill="none"/>
<circle cx="565.44" cy="232.5" r="1.65" stroke="none"/>
</g>
<g stroke="#2ca02c" stroke-width="0.9" stroke-opacity="0.75" fill="#2ca02c">
<path d="M379.05 317.4V319.4M377.05 317.4H381.05M377.05 319.4H381.05" fill="none"/>
<circle cx="379.05" cy="318.4" r="1.65" stroke="none"/>
<path d="M425.65 320.3V322.3M423.65 320.3H427.65M423.65 322.3H427.65" fill="none"/>
<circle cx="425.65" cy="321.3" r="1.65" stroke="none"/>
<path d="M461.89 320.7V322.5M459.89 320.7H463.89M459.89 322.5H463.89" fill="none"/>
<circle cx="461.89" cy="321.6" r="1.65" stroke="none"/>
<path d="M565.44 326.6V328.2M563.44 326.6H567.44M563.44 328.2H567.44" fill="none"/>
<circle cx="565.44" cy="327.4" r="1.65" stroke="none"/>
</g>
<g stroke="#9467bd" stroke-width="0.9" stroke-opacity="0.75" fill="#9467bd">
<path d="M379.05 339.9V341.1M377.05 339.9H381.05M377.05 341.1H381.05" fill="none"/>
<circle cx="379.05" cy="340.5" r="1.65" stroke="none"/>
<path d="M425.65 341.7V342.7M423.65 341.7H427.65M423.65 342.7H427.65" fill="none"/>
<circle cx="425.65" cy="342.2" r="1.65" stroke="none"/>
<path d="M461.89 343.3V344.3M459.89 343.3H463.89M459.89 344.3H463.89" fill="none"/>
<circle cx="461.89" cy="343.8" r="1.65" stroke="none"/>
<path d="M565.44 347.6V348.4M563.44 347.6H567.44M563.44 348.4H567.44" fill="none"/>
<circle cx="565.44" cy="348" r="1.65" stroke="none"/>
</g>
<rect x="376.5" y="197.5" width="214.6" height="159.8" fill="none" stroke="#000000" stroke-width="0.95" stroke-opacity="0.62"/>
<path d="M379.05 357.3v2.5M432.73 357.3v2.5M486.41 357.3v2.5M540.09 357.3v2.5M376.5 218.65h-2.5M376.5 246.45h-2.5M376.5 274.3h-2.5M376.5 301.95h-2.5M376.5 329.55h-2.5" stroke="#000000" stroke-width="0.95" stroke-opacity="0.62" fill="none"/>
<g font-size="8.8">
<text stroke="#000" stroke-width="0.13" x="379.35" y="368.9" transform="rotate(0.03 379.35 368.9)" text-anchor="middle">0.000</text>
<text stroke="#000" stroke-width="0.13" x="433.03" y="368.9" transform="rotate(0.03 433.03 368.9)" text-anchor="middle">0.002</text>
<text stroke="#000" stroke-width="0.13" x="486.71" y="368.9" transform="rotate(0.03 486.71 368.9)" text-anchor="middle">0.004</text>
<text stroke="#000" stroke-width="0.13" x="540.39" y="368.9" transform="rotate(0.03 540.39 368.9)" text-anchor="middle">0.006</text>
<text stroke="#000" stroke-width="0.13" x="372.4" y="222.2" transform="rotate(0.03 372.4 222.2)" text-anchor="end">2.4</text>
<text stroke="#000" stroke-width="0.13" x="372.4" y="250" transform="rotate(0.03 372.4 250)" text-anchor="end">2.2</text>
<text stroke="#000" stroke-width="0.13" x="372.4" y="277.85" transform="rotate(0.03 372.4 277.85)" text-anchor="end">2.0</text>
<text stroke="#000" stroke-width="0.13" x="372.4" y="305.5" transform="rotate(0.03 372.4 305.5)" text-anchor="end">1.8</text>
<text stroke="#000" stroke-width="0.13" x="372.4" y="333.1" transform="rotate(0.03 372.4 333.1)" text-anchor="end">1.6</text>
</g>
<g font-size="8.8">
<text stroke="#000" stroke-width="0.13" x="474.4" y="381.1" transform="rotate(0.03 474.4 381.1)">1/<tspan font-style="italic">L</tspan></text>
<text stroke="#000" stroke-width="0.13" x="484.7" y="374.1" transform="rotate(0.03 484.7 374.1)" font-size="4.6" font-weight="bold">~</text>
<text x="488.6" y="377.8" transform="rotate(0.03 488.6 377.8)" font-size="6.4" fill="#222">2</text>
</g>
<text transform="translate(353.4 277.5) rotate(-90.03)" font-size="8.8" text-anchor="middle" stroke="#000" stroke-width="0.13">Σ/u</text>
<rect x="601.7" y="197.75" width="82.6" height="42.39" rx="1.8" ry="1.8" fill="#fff" stroke="#cacaca" stroke-width="0.8"/>
<g font-size="9.0">
<rect x="605.1" y="201.7" width="18.4" height="6.5" fill="#c4d1ed"/>
<text stroke="#000" stroke-width="0.13" x="630.7" y="208" transform="rotate(0.03 630.7 208)">u=13.9165</text>
<rect x="605.1" y="214.87" width="18.4" height="6.5" fill="#d3f0c9"/>
<text stroke="#000" stroke-width="0.13" x="630.7" y="221.17" transform="rotate(0.03 630.7 221.17)">u=9.9945</text>
<rect x="605.1" y="228.04" width="18.4" height="6.5" fill="#ddcff5"/>
<text stroke="#000" stroke-width="0.13" x="630.7" y="234.34" transform="rotate(0.03 630.7 234.34)">u=8.8322</text>
</g>
</g>
</svg>
</body></html>
